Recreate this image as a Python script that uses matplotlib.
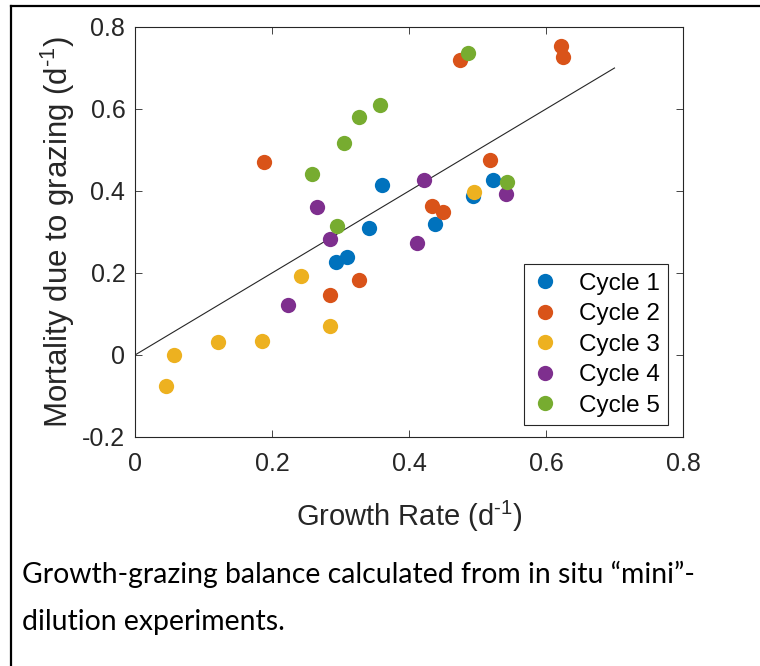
"""
Growth vs grazing mortality scatter, recreated from a MATLAB figure
"""

import matplotlib
matplotlib.use('Agg')
import matplotlib.pyplot as plt
from matplotlib.lines import Line2D

# Data
CYCLE_NAMES = ['Cycle 1', 'Cycle 2', 'Cycle 3', 'Cycle 4', 'Cycle 5']

cycle1_growth = [0.360, 0.341, 0.293, 0.310, 0.523, 0.493, 0.438]
cycle1_grazing = [0.414, 0.310, 0.227, 0.239, 0.426, 0.389, 0.320]

cycle2_growth = [0.189, 0.327, 0.284, 0.622, 0.625, 0.474, 0.518, 0.434, 0.450]
cycle2_grazing = [0.470, 0.184, 0.147, 0.753, 0.728, 0.719, 0.476, 0.364, 0.350]

cycle3_growth = [0.242, 0.284, 0.121, 0.185, 0.057, 0.045, 0.495]
cycle3_grazing = [0.192, 0.070, 0.031, 0.033, 0.001, -0.076, 0.398]

cycle4_growth = [0.266, 0.285, 0.223, 0.412, 0.422, 0.542]
cycle4_grazing = [0.362, 0.284, 0.122, 0.272, 0.427, 0.393]

cycle5_growth = [0.258, 0.305, 0.327, 0.358, 0.295, 0.486, 0.543]
cycle5_grazing = [0.442, 0.516, 0.581, 0.610, 0.315, 0.736, 0.422]

# 1:1 reference line
one_to_one = [0.0, 0.7]

X_TICKS = [0, 0.2, 0.4, 0.6, 0.8]
X_TICK_LABELS = ['0', '0.2', '0.4', '0.6', '0.8']
Y_TICKS = [-0.2, 0, 0.2, 0.4, 0.6, 0.8]
Y_TICK_LABELS = ['-0.2', '0', '0.2', '0.4', '0.6', '0.8']

CAPTION = ('Growth-grazing balance calculated from in situ \u201cmini\u201d-\n'
           'dilution experiments.')

# MATLAB default colour order
COLORS = ['#0072BD', '#D95319', '#EDB120', '#7E2F8E', '#77AC30']
AXIS_GREY = '#262626'

plt.rcParams['font.family'] = ['Liberation Sans', 'DejaVu Sans']
plt.rcParams['mathtext.fontset'] = 'custom'
plt.rcParams['mathtext.rm'] = 'Liberation Sans'
plt.rcParams['mathtext.default'] = 'regular'
plt.rcParams['axes.unicode_minus'] = False

W, H = 760, 666
fig = plt.figure(figsize=(W / 100, H / 100), dpi=100)
ax = fig.add_axes([135 / W, 1 - 437 / H, 548 / W, 410 / H])

series = [
    (cycle1_growth, cycle1_grazing),
    (cycle2_growth, cycle2_grazing),
    (cycle3_growth, cycle3_grazing),
    (cycle4_growth, cycle4_grazing),
    (cycle5_growth, cycle5_grazing),
]
for (gx, gy), name, col in zip(series, CYCLE_NAMES, COLORS):
    ax.plot(gx, gy, linestyle='none', marker='o', markersize=11,
            markeredgewidth=0, color=col, label=name, zorder=3)

ax.plot(one_to_one, one_to_one, color=AXIS_GREY, linewidth=0.8, zorder=2)

ax.set_xlim(0, 0.8)
ax.set_ylim(-0.2, 0.8)
ax.set_xticks(X_TICKS, X_TICK_LABELS)
ax.set_yticks(Y_TICKS, Y_TICK_LABELS)
ax.tick_params(direction='in', length=5, width=0.6, color=AXIS_GREY,
               labelcolor=AXIS_GREY, labelsize=18, top=True, right=True)
ax.tick_params(axis='x', pad=11)
ax.tick_params(axis='y', pad=7)
for sp in ax.spines.values():
    sp.set_color(AXIS_GREY)
    sp.set_linewidth(0.8)

# superscript with a short hyphen, like the MATLAB original
ax.set_xlabel(r'Growth Rate (d$^{\text{-}1}$)', fontsize=21, color=AXIS_GREY, labelpad=16)
ax.set_ylabel(r'Mortality due to grazing (d$^{\text{-}1}$)', fontsize=22.5,
              color=AXIS_GREY, labelpad=4)

leg = ax.legend(loc='lower right', bbox_to_anchor=(0.9726, 0.029),
                borderaxespad=0, fontsize=17.5, frameon=True, fancybox=False,
                handlelength=1.0, handletextpad=0.9, borderpad=0.35,
                labelspacing=0.35, numpoints=1)
leg.get_frame().set_edgecolor(AXIS_GREY)
leg.get_frame().set_linewidth(0.8)
leg.get_frame().set_alpha(1)

# Caption below the plot
fig.text(22 / W, 1 - 598 / H, CAPTION, fontsize=20.4, family=['Lato', 'DejaVu Sans'],
         color='black', ha='left', va='center', linespacing=2.0)

# Frame lines (left and top edges of the surrounding box)
fig.add_artist(Line2D([11 / W, 11 / W], [0, 1 - 5.5 / H], transform=fig.transFigure,
                      color='black', linewidth=1.6))
fig.add_artist(Line2D([11 / W, 1], [1 - 5.5 / H, 1 - 5.5 / H], transform=fig.transFigure,
                      color='black', linewidth=1.6))

plt.savefig('out.png', dpi=100)
plt.close()
